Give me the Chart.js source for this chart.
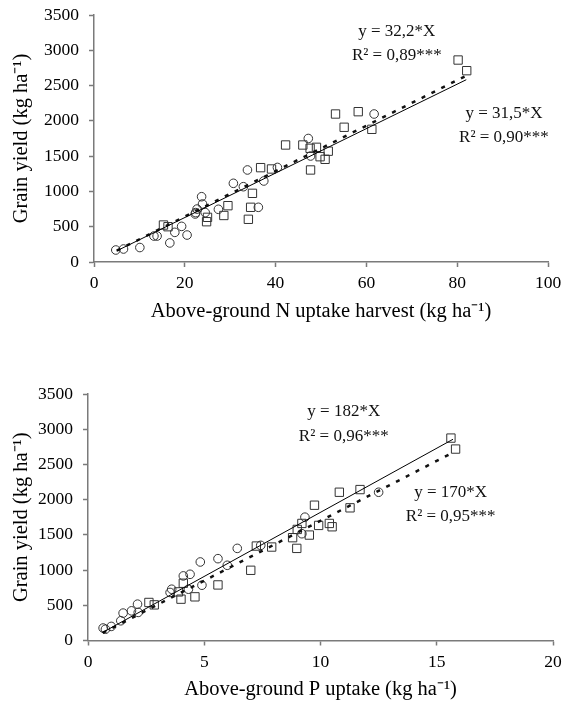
<!DOCTYPE html>
<html>
<head>
<meta charset="utf-8">
<script src="https://cdn.jsdelivr.net/npm/chart.js@4.4.0/dist/chart.umd.min.js"></script>
<style>
    body { margin: 0; background: #fff; overflow: hidden; }
    .painel { position: absolute; left: 0; width: 568px; }
</style>
</head>
<body>
<div class="painel" style="top:-10px;height:335px"><canvas id="graficoN" width="568" height="335"></canvas></div>
<div class="painel" style="top:340px;height:363px"><canvas id="graficoP" width="568" height="363"></canvas></div>
<script>
// N uptake at harvest vs grain yield
const nCirculosX = [4.8, 6.5, 10.1, 13.2, 13.9, 16.7, 17.8, 19.3, 20.5, 22.3, 22.4, 22.7, 23.7, 23.9, 24.5, 27.4, 30.7, 32.9, 33.8, 36.2, 37.4, 40.4, 47.2, 47.7, 61.7];
const nCirculosY = [170, 184, 205, 368, 368, 270, 420, 505, 382, 680, 700, 750, 925, 822, 700, 747, 1115, 1067, 1304, 775, 1148, 1340, 1750, 1502, 2097];
const nQuadradosX = [15.3, 16.3, 24.8, 25.0, 28.6, 29.5, 34.0, 34.5, 34.9, 36.7, 39.1, 42.2, 46.0, 47.6, 47.7, 49.0, 49.8, 50.9, 51.6, 53.2, 55.1, 58.2, 61.2, 80.2, 82.1];
const nQuadradosY = [524, 500, 571, 633, 659, 798, 605, 775, 973, 1337, 1318, 1658, 1658, 1611, 1304, 1625, 1492, 1455, 1570, 2097, 1909, 2130, 1880, 2862, 2711];
const nInclinacoes = [31.5, 32.2];
const nFaixa = [5, 82];
const nTextos = ['y = 32,2*X', 'R\u00b2 = 0,89***', 'y = 31,5*X', 'R\u00b2 = 0,90***'];

// P uptake vs grain yield
const pCirculosX = [0.65, 0.75, 1.0, 1.41, 1.51, 1.87, 2.13, 2.16, 3.53, 3.6, 4.1, 4.32, 4.39, 4.83, 4.9, 5.59, 5.99, 6.42, 7.43, 9.2, 9.33, 12.5];
const pCirculosY = [177, 160, 200, 280, 389, 421, 516, 399, 682, 728, 917, 728, 940, 1115, 785, 1162, 1068, 1308, 1351, 1516, 1751, 2105];
const pQuadradosX = [2.62, 2.85, 3.89, 4.0, 4.1, 4.6, 5.59, 7.0, 7.24, 7.9, 8.8, 8.98, 9.0, 9.2, 9.52, 9.74, 9.92, 10.38, 10.5, 10.81, 11.27, 11.7, 15.61, 15.81];
const pQuadradosY = [540, 506, 690, 587, 813, 620, 789, 997, 1341, 1327, 1460, 1308, 1577, 1662, 1497, 1921, 1634, 1662, 1615, 2105, 1884, 2143, 2874, 2718];
const pInclinacoes = [182, 170];
const pFaixa = [0.63, 15.7];
const pTextos = ['y = 182*X', 'R\u00b2 = 0,96***', 'y = 170*X', 'R\u00b2 = 0,95***'];

const yTicks = [0, 500, 1000, 1500, 2000, 2500, 3000, 3500];

const FONTE = '"Liberation Serif", "Times New Roman", serif';
const CINZA = '#7a7a7a';

function pontos(X, Y) {
    return X.map((x, i) => ({ x: x, y: Y[i] }));
}

function reta(b, faixa) {
    return faixa.map((x) => ({ x: x, y: b * x }));
}

// equation labels, positioned in data units
const rotulos = {
    id: 'rotulos',
    afterDatasetsDraw(chart, args, opts) {
        const { ctx } = chart;
        const sx = chart.scales.x;
        const sy = chart.scales.y;
        ctx.save();
        ctx.font = '17px ' + FONTE;
        ctx.fillStyle = '#111';
        ctx.textAlign = 'center';
        ctx.textBaseline = 'middle';
        opts.itens.forEach((t) => {
            ctx.fillText(t.texto, sx.getPixelForValue(t.x), sy.getPixelForValue(t.y));
        });
        ctx.restore();
    }
};

function plotar(id, cfg) {
    const ctx = document.getElementById(id).getContext('2d');
    return new Chart(ctx, {
        type: 'scatter',
        data: {
            datasets: [
                {
                    data: reta(cfg.inclinacoes[0], cfg.faixa),
                    showLine: true,
                    borderColor: '#000',
                    borderWidth: 1,
                    pointRadius: 0
                },
                {
                    data: reta(cfg.inclinacoes[1], cfg.faixa),
                    showLine: true,
                    borderColor: '#111',
                    borderWidth: 2.5,
                    borderDash: [4, 7],
                    pointRadius: 0
                },
                {
                    data: cfg.circulos,
                    pointStyle: 'circle',
                    pointRadius: 4.3,
                    borderColor: '#333',
                    borderWidth: 1,
                    backgroundColor: 'rgba(0,0,0,0)'
                },
                {
                    data: cfg.quadrados,
                    pointStyle: 'rect',
                    pointRadius: 5.9,
                    borderColor: '#333',
                    borderWidth: 1,
                    backgroundColor: 'rgba(0,0,0,0)'
                }
            ]
        },
        options: {
            animation: false,
            responsive: false,
            events: [],
            layout: {
                padding: { top: cfg.topo, right: cfg.direita, left: 0, bottom: 0 }
            },
            plugins: {
                legend: { display: false },
                tooltip: { enabled: false },
                rotulos: { itens: cfg.rotulos }
            },
            scales: {
                x: {
                    type: 'linear',
                    min: 0,
                    max: cfg.xMax,
                    afterFit: (s) => { s.height = cfg.alturaX; },
                    title: {
                        display: true,
                        text: cfg.tituloX,
                        color: '#000',
                        padding: { top: 0, bottom: 1 },
                        font: { family: FONTE, size: 20.5 }
                    },
                    ticks: {
                        stepSize: cfg.xPasso,
                        color: '#000',
                        padding: 6,
                        callback: (v) => String(v),
                        font: { family: FONTE, size: 17.5 }
                    },
                    grid: {
                        drawOnChartArea: false,
                        tickLength: 5,
                        tickWidth: 1.5,
                        color: CINZA
                    },
                    border: { color: CINZA, width: 1.5 }
                },
                y: {
                    min: 0,
                    max: 3500,
                    afterFit: (s) => { s.width = cfg.larguraY; },
                    afterBuildTicks: (s) => { s.ticks = yTicks.map((v) => ({ value: v })); },
                    title: {
                        display: true,
                        text: 'Grain yield (kg ha\u207b\u00b9)',
                        color: '#000',
                        padding: { top: 9.5, bottom: 0 },
                        font: { family: FONTE, size: 20.5 }
                    },
                    ticks: {
                        color: '#000',
                        padding: 10,
                        callback: (v) => String(v),
                        font: { family: FONTE, size: 17.5 }
                    },
                    grid: {
                        drawOnChartArea: false,
                        tickLength: 5,
                        tickWidth: 1.5,
                        color: CINZA
                    },
                    border: { color: CINZA, width: 1.5 }
                }
            }
        },
        plugins: [rotulos]
    });
}

function main() {
    plotar('graficoN', {
        circulos: pontos(nCirculosX, nCirculosY),
        quadrados: pontos(nQuadradosX, nQuadradosY),
        inclinacoes: nInclinacoes,
        faixa: nFaixa,
        xMax: 100,
        xPasso: 20,
        tituloX: 'Above-ground N uptake harvest (kg ha\u207b\u00b9)',
        topo: 25,
        direita: 20,
        larguraY: 94,
        alturaX: 63,
        rotulos: [
            { texto: nTextos[0], x: 66.7, y: 3260 },
            { texto: nTextos[1], x: 66.7, y: 2920 },
            { texto: nTextos[2], x: 90.3, y: 2097 },
            { texto: nTextos[3], x: 90.3, y: 1757 }
        ]
    });

    plotar('graficoP', {
        circulos: pontos(pCirculosX, pCirculosY),
        quadrados: pontos(pQuadradosX, pQuadradosY),
        inclinacoes: pInclinacoes,
        faixa: pFaixa,
        xMax: 20,
        xPasso: 5,
        tituloX: 'Above-ground P uptake (kg ha\u207b\u00b9)',
        topo: 54,
        direita: 15,
        larguraY: 88,
        alturaX: 62.5,
        rotulos: [
            { texto: pTextos[0], x: 11.0, y: 3246 },
            { texto: pTextos[1], x: 11.0, y: 2893 },
            { texto: pTextos[2], x: 15.6, y: 2100 },
            { texto: pTextos[3], x: 15.6, y: 1761 }
        ]
    });
}

window.addEventListener('DOMContentLoaded', main);
</script>
</body>
</html>
